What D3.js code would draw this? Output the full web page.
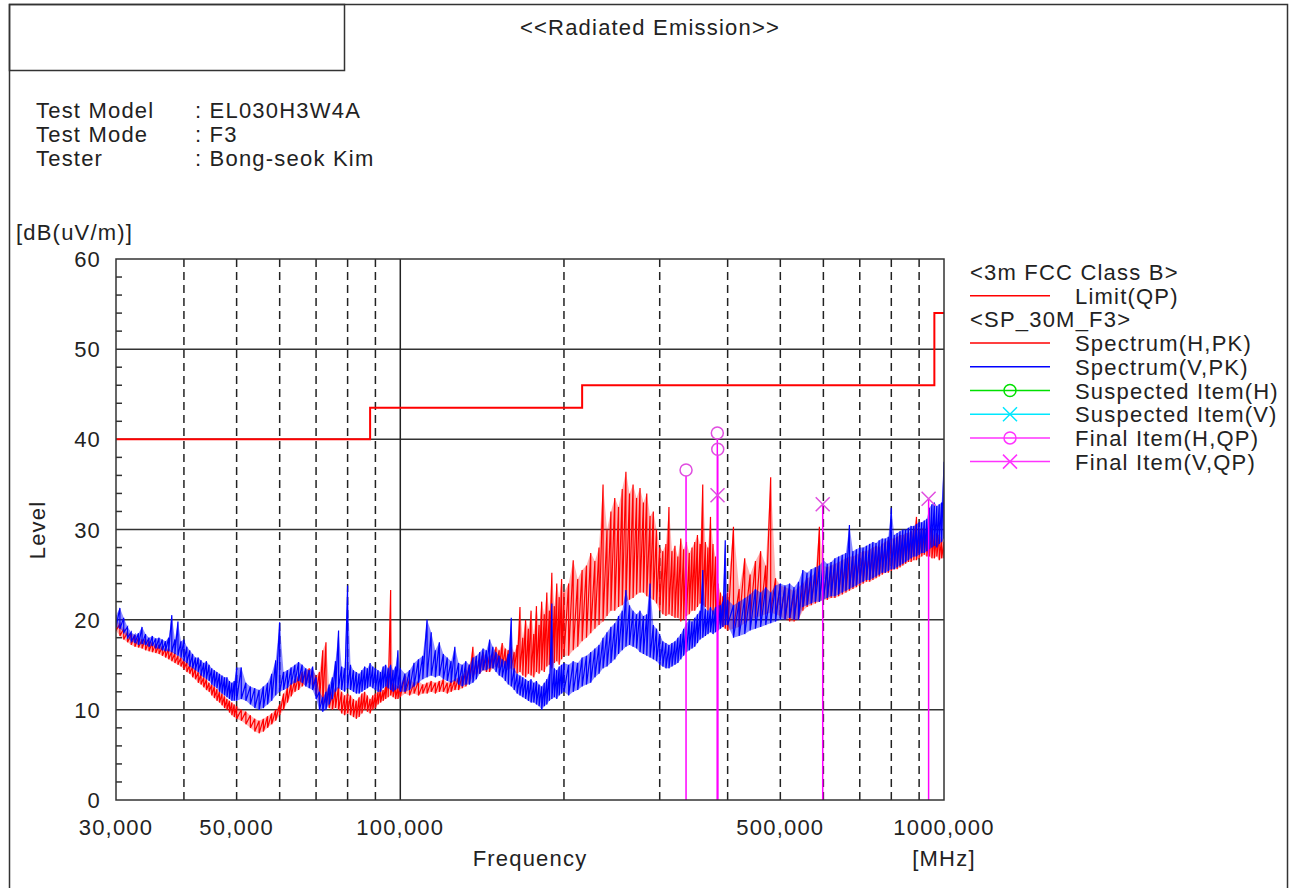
<!DOCTYPE html>
<html>
<head>
<meta charset="utf-8">
<script src="https://d3js.org/d3.v7.min.js"></script>
<style>
  body { margin: 0; background: #fff; }
  text { font-family: "Liberation Sans", Arial, sans-serif; fill: #222; font-size: 22px; letter-spacing: 1.2px; }
</style>
</head>
<body>
<svg width="1291" height="888"></svg>
<script>
// ---- data ----
const title = '<<Radiated Emission>>';
const infoLabels = ['Test Model', 'Test Mode', 'Tester'];
const infoValues = ['EL030H3W4A', 'F3', 'Bong-seok Kim'];

const xTickValues = [30, 50, 100, 500, 1000];
const xTickLabels = ['30,000', '50,000', '100,000', '500,000', '1000,000'];
const yTickValues = [0, 10, 20, 30, 40, 50, 60];
const dashedFreqs = [40, 50, 60, 70, 80, 90, 200, 300, 400, 500, 600, 700, 800, 900];

// limit (QP) steps: [from MHz, to MHz, dBuV/m]
const limitSteps = [[30, 88, 40], [88, 216, 43.5], [216, 960, 46], [960, 1000, 54]];

// sweep bins (MHz); each bin has a peak and a trough level
const freqs = [
  30,30.5,31,31.5,32,32.5,33,33.5,34,34.5,35,35.5,36,36.5,37,37.5,38,38.5,39,39.5,40,40.5,41,41.5,42,42.5,43,43.5,44,44.5,45,45.5,46,46.5,47,47.5,48,48.5,49,49.5,50,
  51,52,53,54,55,56,57,58,59,60,61,62,63,64,65,66,67,68,69,70,71,72,73,74,75,76,77,78,79,80,81,82,83,84,85,86,87,88,89,90,91,92,93,94,95,96,97,98,99,100,
  102,104,106,108,110,112,114,116,118,120,122,124,126,128,130,132,134,136,138,140,142,144,146,148,150,152,154,156,158,160,162,164,166,168,170,172,174,176,178,180,182,184,186,188,190,192,194,196,198,200,
  204,208,212,216,220,224,228,232,236,240,244,248,252,256,260,264,268,272,276,280,284,288,292,296,300,304,308,312,316,320,324,328,332,336,340,344,348,352,356,360,364,368,372,376,380,384,388,392,396,400,
  410,420,430,440,450,460,470,480,490,500,510,520,530,540,550,560,570,580,590,600,610,620,630,640,650,660,670,680,690,700,710,720,730,740,750,760,770,780,790,800,810,820,830,840,850,860,870,880,890,900,910,920,930,940,950,960,970,980,990,1000
];

const hPeak = [
  20.0,19.5,19.0,18.6,18.4,18.3,18.0,17.8,17.9,17.6,17.5,17.3,17.2,17.0,16.8,16.8,16.5,16.3,16.0,15.8,15.6,15.3,15.0,14.8,14.6,14.2,14.0,13.6,13.4,13.0,12.8,12.6,12.3,12.0,11.8,11.5,11.2,11.0,10.8,10.6,10.4,
  10.0,9.8,9.4,9.0,8.8,9.0,9.3,9.6,10.0,10.6,11.8,12.5,13.0,13.4,13.8,14.2,14.4,14.6,14.4,13.8,14.2,16.6,17.5,12.5,12.0,12.4,12.6,12.0,11.6,11.8,11.6,11.2,11.0,11.4,11.8,12.0,11.6,11.2,11.6,11.8,12.0,12.4,12.2,12.6,14.0,23.3,13.0,12.8,12.6,12.8,
  13.8,13.4,13.0,13.2,12.8,13.0,13.2,13.0,13.2,13.4,13.0,13.2,13.4,13.6,13.8,14.4,15.0,17.0,15.4,15.6,16.4,15.8,16.0,16.4,17.0,16.6,17.4,16.8,16.6,17.0,16.4,17.2,21.4,18.0,20.0,19.0,21.0,18.4,21.5,19.4,22.0,20.6,23.0,21.0,25.2,21.5,24.0,22.5,24.5,23.0,
  24.0,26.6,24.5,25.5,26.0,27.4,26.5,28.0,35.0,30.0,32.0,33.5,32.5,34.5,36.4,34.0,35.0,33.5,34.6,33.0,34.0,31.5,32.0,30.0,28.0,27.6,28.4,32.5,27.6,28.2,27.0,29.0,27.8,28.6,27.4,28.0,28.6,29.4,28.4,35.0,28.6,28.0,31.4,28.4,27.0,24.0,23.0,22.6,22.8,23.0,
  30.3,23.4,26.8,25.0,26.5,27.6,26.0,35.8,24.6,23.8,23.6,23.4,23.2,23.6,24.0,24.6,24.8,25.2,30.3,26.0,25.8,26.0,26.2,26.4,26.6,26.8,27.0,27.0,27.2,27.4,27.6,27.6,27.8,28.0,28.2,28.0,28.4,28.6,28.8,29.0,29.0,29.2,29.4,29.4,29.6,29.6,29.8,30.0,31.4,30.0,30.2,30.0,30.2,30.0,30.2,29.4,29.6,29.4,29.0,28.6
];
const hLow = [
  18.8,18.2,17.8,17.5,17.2,17.0,16.9,16.8,16.6,16.5,16.4,16.3,16.2,16.0,15.8,15.6,15.4,15.2,15.0,14.8,14.5,14.2,14.0,13.6,13.4,13.0,12.8,12.5,12.2,12.0,11.6,11.3,11.0,10.8,10.5,10.2,10.0,9.7,9.4,9.2,9.0,
  8.8,8.4,8.0,7.6,7.4,7.6,8.0,8.4,8.8,9.4,10.0,10.8,11.5,12.0,12.2,12.6,12.8,13.0,12.6,11.8,10.8,10.5,10.8,10.2,10.0,10.2,10.0,9.6,9.4,9.6,9.4,9.2,9.0,9.2,9.6,10.0,9.8,9.6,10.0,10.2,10.6,10.8,11.0,11.2,11.4,11.6,11.4,11.2,11.2,11.4,
  11.8,11.6,11.8,11.6,11.8,11.8,12.0,11.8,12.0,12.0,11.8,12.0,12.2,12.2,12.4,12.6,13.0,13.6,14.0,14.0,14.4,14.2,14.2,14.6,14.8,14.6,14.8,14.6,14.4,14.6,14.2,14.0,14.2,13.8,13.6,14.0,13.8,13.6,14.2,14.0,14.4,14.2,14.8,15.0,14.6,15.2,15.4,15.0,15.6,16.0,
  16.0,16.6,17.0,17.6,18.0,18.5,19.0,19.4,19.8,20.4,21.0,21.0,21.4,21.6,22.0,22.2,22.4,22.8,23.0,23.0,22.6,22.4,22.2,21.8,21.0,20.6,20.4,20.6,20.4,20.2,20.2,19.8,20.0,20.4,20.6,21.0,21.0,21.4,21.8,21.6,21.4,21.0,21.2,20.6,20.2,19.8,19.4,19.2,19.0,18.8,
  19.0,19.2,19.6,20.0,20.2,20.4,20.6,20.8,20.6,20.4,20.0,19.8,19.8,20.0,21.0,21.4,21.6,21.8,22.0,22.2,22.2,22.4,22.4,22.6,22.8,23.0,23.2,23.4,23.6,23.8,24.0,24.2,24.2,24.4,24.6,24.8,25.0,25.2,25.2,25.4,25.6,25.6,25.8,26.0,26.2,26.4,26.4,26.6,26.6,26.8,27.0,27.2,27.0,27.0,26.8,26.8,27.0,26.6,26.8,26.8
];
const vPeak = [
  20.5,21.3,20.2,19.2,18.6,18.3,18.5,19.2,18.4,18.0,18.2,17.9,18.0,17.8,17.6,18.0,20.5,17.8,19.8,17.6,17.8,17.0,16.6,16.2,15.8,15.8,15.5,15.2,15.4,15.0,14.6,14.4,14.2,14.0,13.8,13.6,13.6,13.2,13.0,13.2,14.7,
  14.7,13.0,12.6,12.4,12.2,12.6,13.0,14.0,15.5,19.7,14.2,14.4,14.7,15.0,15.3,15.0,14.6,14.4,14.8,13.6,12.0,11.4,12.0,12.8,13.6,15.4,18.8,14.8,14.6,23.8,15.0,14.4,14.2,14.0,14.4,14.8,14.6,15.2,14.8,14.6,14.4,14.2,14.8,15.0,14.6,15.0,14.4,14.8,16.6,14.6,
  14.0,14.4,15.2,15.6,16.0,20.0,18.6,16.6,17.5,16.2,15.8,15.4,17.0,15.2,15.0,15.4,15.0,15.8,16.0,16.4,16.8,16.6,17.8,17.0,16.4,16.0,15.6,15.4,16.2,20.2,14.6,14.0,13.8,13.6,13.4,13.2,13.4,13.0,13.2,12.8,12.6,13.0,13.4,14.0,21.8,14.6,14.4,14.8,15.0,15.2,
  15.0,15.4,15.2,15.8,16.0,16.4,16.8,17.2,18.0,18.6,19.2,19.6,20.4,21.0,23.3,21.6,21.0,20.6,21.0,20.4,20.6,24.0,19.4,19.0,18.4,17.6,17.4,17.2,17.4,17.6,18.0,18.4,19.0,19.6,20.0,19.8,20.2,20.6,21.0,25.5,21.2,21.0,21.4,21.0,21.4,21.6,21.6,22.0,28.8,22.2,
  21.6,22.0,22.4,22.8,23.4,23.0,23.6,23.0,23.8,24.0,23.8,24.0,23.6,24.2,25.5,25.2,25.6,25.8,26.0,26.6,26.2,26.4,26.8,27.0,27.2,27.4,30.5,27.6,27.8,28.0,28.0,28.2,28.4,28.6,28.5,28.8,29.0,29.0,29.2,32.4,29.4,29.6,29.8,30.0,30.0,30.2,30.4,30.4,30.6,30.8,30.8,31.0,31.2,32.4,32.8,33.0,32.6,32.8,33.0,37.5
];
const vLow = [
  19.2,19.0,18.6,18.0,17.6,17.4,17.2,17.3,17.2,17.0,17.1,16.8,16.8,16.6,16.5,16.5,16.4,16.2,16.0,15.8,15.4,15.2,14.8,14.6,14.4,14.2,13.8,13.6,13.4,13.2,12.8,12.6,12.4,12.0,11.8,11.6,11.4,11.2,11.0,11.0,11.0,
  11.2,11.0,10.6,10.2,10.0,10.2,10.6,11.0,11.6,12.0,12.2,12.4,12.8,13.0,13.2,13.0,12.6,12.4,12.2,11.2,10.0,9.8,10.0,10.6,11.2,12.0,12.4,12.2,12.0,12.4,12.2,12.0,11.8,11.8,12.0,12.2,12.4,12.6,12.4,12.2,12.0,12.0,12.4,12.6,12.4,12.2,12.0,12.2,12.4,12.0,
  12.0,12.2,12.6,13.0,13.4,13.6,13.8,13.6,13.8,13.4,13.2,13.0,13.2,12.8,12.6,12.8,12.8,13.0,13.4,14.0,14.4,14.4,14.6,14.6,14.2,13.8,13.6,13.2,12.8,12.6,12.2,11.8,11.6,11.4,11.2,11.0,10.8,10.8,10.6,10.4,10.0,10.4,10.6,11.0,11.2,11.4,11.2,11.6,11.8,12.0,
  11.6,12.0,12.2,12.6,12.8,13.0,13.6,14.0,14.6,14.8,15.2,15.6,16.2,16.6,17.0,17.2,17.0,16.8,16.4,16.2,16.0,15.8,15.6,15.4,15.0,14.8,14.6,14.6,14.8,15.0,15.2,15.6,16.0,16.4,16.6,16.8,17.0,17.4,17.8,18.0,18.2,18.4,18.6,18.4,18.6,18.8,19.0,19.2,19.4,19.4,
  18.0,18.2,18.4,18.8,19.0,19.2,19.4,19.6,19.8,20.0,20.0,20.2,20.0,20.0,21.4,21.6,21.8,22.0,22.0,22.2,22.4,22.6,22.6,22.8,23.0,23.2,23.4,23.6,23.8,24.0,24.2,24.4,24.4,24.6,24.8,25.0,25.2,25.2,25.4,25.6,25.6,25.8,26.0,26.2,26.4,26.6,26.8,27.0,27.0,27.2,27.4,27.4,27.6,27.8,28.0,28.2,28.0,28.4,28.6,29.0
];

// final QP items
const finalHFreq = [335.4, 382.9, 383.6];
const finalHLevel = [36.6, 40.7, 38.9];
const finalVFreq = [383.2, 598.3, 936.9];
const finalVLevel = [33.8, 32.8, 33.4];

const legendRows = [
  { kind: 'head', label: '<3m FCC Class B>' },
  { kind: 'line', label: 'Limit(QP)', color: '#ff0000' },
  { kind: 'head', label: '<SP_30M_F3>' },
  { kind: 'line', label: 'Spectrum(H,PK)', color: '#ff0000' },
  { kind: 'line', label: 'Spectrum(V,PK)', color: '#0000ff' },
  { kind: 'circle', label: 'Suspected Item(H)', color: '#00e000' },
  { kind: 'cross', label: 'Suspected Item(V)', color: '#00e8ff' },
  { kind: 'circle', label: 'Final Item(H,QP)', color: '#ff33ff' },
  { kind: 'cross', label: 'Final Item(V,QP)', color: '#ff33ff' }
];

// ---- drawing ----
const svg = d3.select('svg');

const x = d3.scaleLog().domain([30, 1000]).range([116, 944]);
const y = d3.scaleLinear().domain([0, 60]).range([800, 259]);

// page frame
svg.append('rect').attr('x', 9.5).attr('y', 4.5).attr('width', 1278).attr('height', 900)
  .attr('fill', 'none').attr('stroke', '#333').attr('stroke-width', 1.5);
svg.append('rect').attr('x', 9.5).attr('y', 4.5).attr('width', 335).attr('height', 66)
  .attr('fill', 'none').attr('stroke', '#333').attr('stroke-width', 1.5);

svg.append('text').attr('x', 650).attr('y', 35).attr('text-anchor', 'middle').text(title);

infoLabels.forEach((d, i) => {
  const ty = 118 + i * 24;
  svg.append('text').attr('x', 36).attr('y', ty).text(d);
  svg.append('text').attr('x', 195).attr('y', ty).text(': ' + infoValues[i]);
});

// clip for traces
svg.append('defs').append('clipPath').attr('id', 'plotclip')
  .append('rect').attr('x', 116).attr('y', 259).attr('width', 828).attr('height', 541);

const grid = svg.append('g');
grid.selectAll('.hg').data([10, 20, 30, 40, 50]).enter().append('line')
  .attr('x1', 116).attr('x2', 944).attr('y1', d => y(d)).attr('y2', d => y(d))
  .attr('stroke', '#333').attr('stroke-width', 1.5);
grid.selectAll('.vg').data(dashedFreqs).enter().append('line')
  .attr('x1', d => x(d)).attr('x2', d => x(d)).attr('y1', 259).attr('y2', 800)
  .attr('stroke', '#222').attr('stroke-width', 1.5).attr('stroke-dasharray', '8,5');
grid.append('line').attr('x1', x(100)).attr('x2', x(100)).attr('y1', 259).attr('y2', 800)
  .attr('stroke', '#222').attr('stroke-width', 1.5);
grid.selectAll('.mt').data(d3.range(0, 60, 2).filter(d => d % 10 !== 0)).enter().append('line')
  .attr('x1', 116).attr('x2', 122).attr('y1', d => y(d)).attr('y2', d => y(d))
  .attr('stroke', '#333').attr('stroke-width', 1.5);

// traces: light band between trough and peak, then the peak/trough zigzag
const bandPoints = (lo, hi) => {
  const pts = [];
  freqs.forEach((f, i) => { pts.push([x(f), y(hi[i])]); pts.push([x(f), y(lo[i])]); });
  return pts;
};
const line = d3.line();
const band = (lo, hi) => d3.area().x((d, i) => x(freqs[i])).y0((d, i) => y(lo[i])).y1((d, i) => y(hi[i]))(freqs);
const traces = svg.append('g').attr('clip-path', 'url(#plotclip)');
traces.append('path').attr('d', band(hLow, hPeak)).attr('fill', '#ff0000').attr('fill-opacity', 0.3);
traces.append('path').attr('d', line(bandPoints(hLow, hPeak)))
  .attr('fill', 'none').attr('stroke', '#ff0000').attr('stroke-width', 1.2);
traces.append('path').attr('d', band(vLow, vPeak)).attr('fill', '#0000ff').attr('fill-opacity', 0.45);
traces.append('path').attr('d', line(bandPoints(vLow, vPeak)))
  .attr('fill', 'none').attr('stroke', '#0000ff').attr('stroke-width', 1.2);

// limit line
const limitPts = [];
limitSteps.forEach(s => { limitPts.push([x(s[0]), y(s[2])]); limitPts.push([x(s[1]), y(s[2])]); });
svg.append('path').attr('d', line(limitPts)).attr('fill', 'none')
  .attr('stroke', '#ff0000').attr('stroke-width', 2);

// final items
const mk = svg.append('g');
finalHFreq.forEach((f, i) => {
  mk.append('line').attr('x1', x(f)).attr('x2', x(f)).attr('y1', y(finalHLevel[i]) + 6).attr('y2', y(0))
    .attr('stroke', '#ff00ff').attr('stroke-width', 1.5);
  mk.append('circle').attr('cx', x(f)).attr('cy', y(finalHLevel[i])).attr('r', 6)
    .attr('fill', 'none').attr('stroke', '#e04ee0').attr('stroke-width', 1.5);
});
finalVFreq.forEach((f, i) => {
  const cx = x(f), cy = y(finalVLevel[i]);
  mk.append('line').attr('x1', cx).attr('x2', cx).attr('y1', cy).attr('y2', y(0))
    .attr('stroke', '#ff00ff').attr('stroke-width', 1.5);
  mk.append('path').attr('d', `M${cx - 7},${cy - 7}L${cx + 7},${cy + 7}M${cx - 7},${cy + 7}L${cx + 7},${cy - 7}`)
    .attr('stroke', '#e04ee0').attr('stroke-width', 1.5);
});

// plot box
svg.append('rect').attr('x', 116).attr('y', 259).attr('width', 828).attr('height', 541)
  .attr('fill', 'none').attr('stroke', '#333').attr('stroke-width', 1.5);

// axis labels
svg.selectAll('.yl').data(yTickValues).enter().append('text')
  .attr('x', 101).attr('y', d => y(d) + 8).attr('text-anchor', 'end').text(d => d);
svg.selectAll('.xl').data(xTickValues).enter().append('text')
  .attr('x', d => x(d)).attr('y', 835).attr('text-anchor', 'middle').text((d, i) => xTickLabels[i]);

svg.append('text').attr('x', 16).attr('y', 240).text('[dB(uV/m)]');
svg.append('text').attr('transform', 'translate(45,530) rotate(-90)').attr('text-anchor', 'middle').text('Level');
svg.append('text').attr('x', 530).attr('y', 866).attr('text-anchor', 'middle').text('Frequency');
svg.append('text').attr('x', 944).attr('y', 866).attr('text-anchor', 'middle').text('[MHz]');

// legend
const lg = svg.append('g');
legendRows.forEach((r, i) => {
  const ly = 272 + i * 23.7;
  if (r.kind === 'head') {
    lg.append('text').attr('x', 970).attr('y', ly + 8).text(r.label);
    return;
  }
  lg.append('line').attr('x1', 970).attr('x2', 1050).attr('y1', ly).attr('y2', ly)
    .attr('stroke', r.color).attr('stroke-width', 1.5);
  if (r.kind === 'circle') {
    lg.append('circle').attr('cx', 1010).attr('cy', ly).attr('r', 6)
      .attr('fill', 'none').attr('stroke', r.color).attr('stroke-width', 1.5);
  } else if (r.kind === 'cross') {
    lg.append('path').attr('d', `M1003,${ly - 7}L1017,${ly + 7}M1003,${ly + 7}L1017,${ly - 7}`)
      .attr('stroke', r.color).attr('stroke-width', 1.5);
  }
  lg.append('text').attr('x', 1075).attr('y', ly + 8).text(r.label);
});
</script>
</body>
</html>
